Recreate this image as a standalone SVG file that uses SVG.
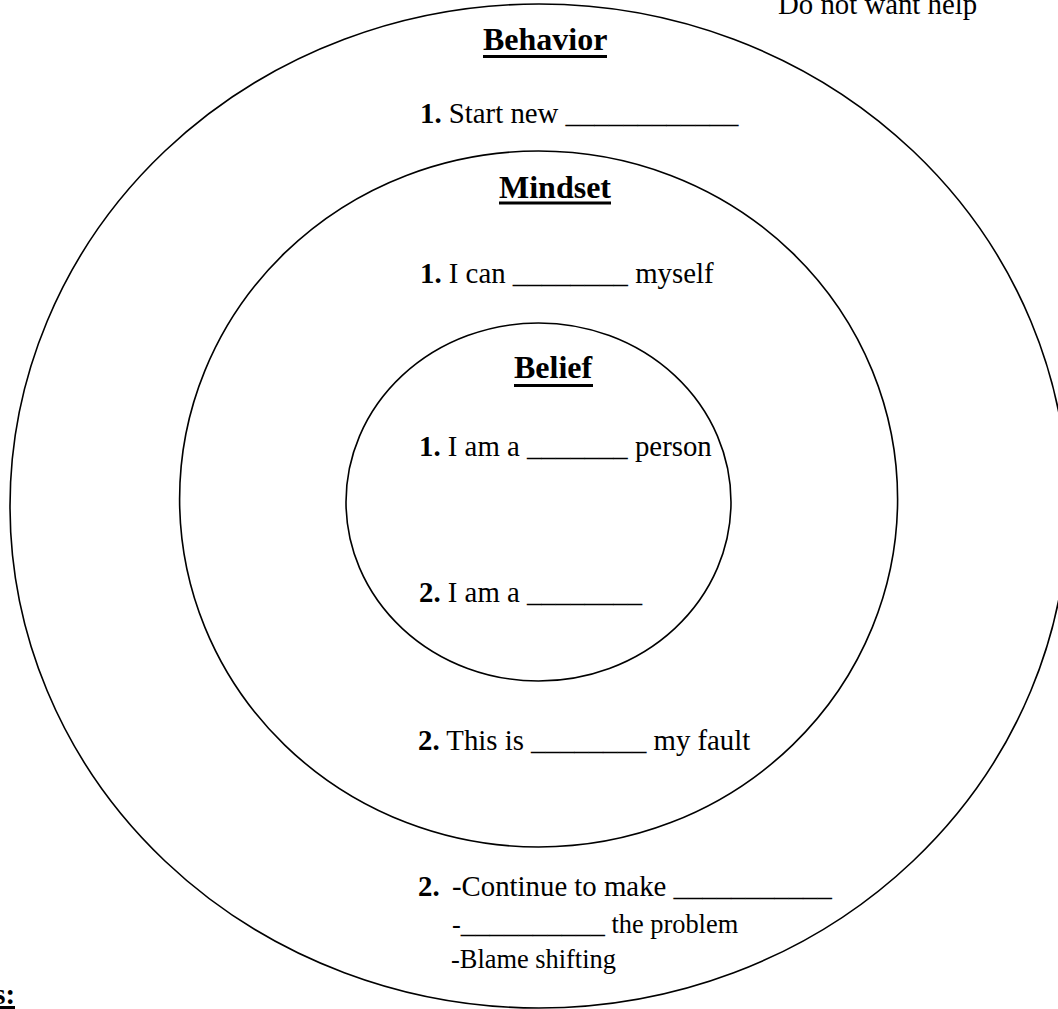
<svg xmlns="http://www.w3.org/2000/svg" width="1058" height="1009" viewBox="0 0 1058 1009" font-family="Liberation Serif, Times New Roman, serif">
<style>
.ring{fill:none;stroke:#000;stroke-width:1.6}
.t{font-size:28.8px;fill:#000}
.s{font-size:26.4px}
.b{font-weight:bold}
.h{font-size:32px;font-weight:bold;fill:#000}
.ul{stroke:#000;stroke-width:3}
</style>
<rect width="1058" height="1009" fill="#fff"/>
<g id="behavior">
<ellipse class="ring" cx="539" cy="506" rx="529" ry="502"/>
<text class="h" x="483" y="50">Behavior</text>
<line class="ul" x1="483" y1="56.5" x2="607" y2="56.5"/>
<text class="t" x="420" y="123"><tspan class="b">1.</tspan> Start new ____________</text>
<text class="t b" x="418" y="896">2.</text>
<text class="t" x="452" y="896">-Continue to make ___________</text>
<text class="t s" x="452" y="933">-<tspan class="t">__________</tspan><tspan class="s"> the problem</tspan></text>
<text class="t s" x="451" y="968">-Blame shifting</text>
</g>
<g id="mindset">
<ellipse class="ring" cx="538.6" cy="499" rx="359" ry="348"/>
<text class="h" x="499" y="198">Mindset</text>
<line class="ul" x1="499" y1="203" x2="611" y2="203"/>
<text class="t" x="420" y="283"><tspan class="b">1.</tspan> I can ________ myself</text>
<text class="t" x="418" y="750"><tspan class="b">2.</tspan> This is ________ my fault</text>
</g>
<g id="belief">
<ellipse class="ring" cx="538.5" cy="502" rx="192.5" ry="179"/>
<text class="h" x="514" y="378">Belief</text>
<line class="ul" x1="514" y1="385.5" x2="593" y2="385.5"/>
<text class="t" x="419" y="456"><tspan class="b">1.</tspan> I am a _______ person</text>
<text class="t" x="419" y="602"><tspan class="b">2.</tspan> I am a ________</text>
</g>
<g id="extra">
<text class="t" x="778" y="14">Do not want help</text>
<text class="t b" x="15" y="1004" text-anchor="end">s:</text>
<line class="ul" x1="0" y1="1007.5" x2="15" y2="1007.5"/>
</g>
<g id="connectors"/>
</svg>
